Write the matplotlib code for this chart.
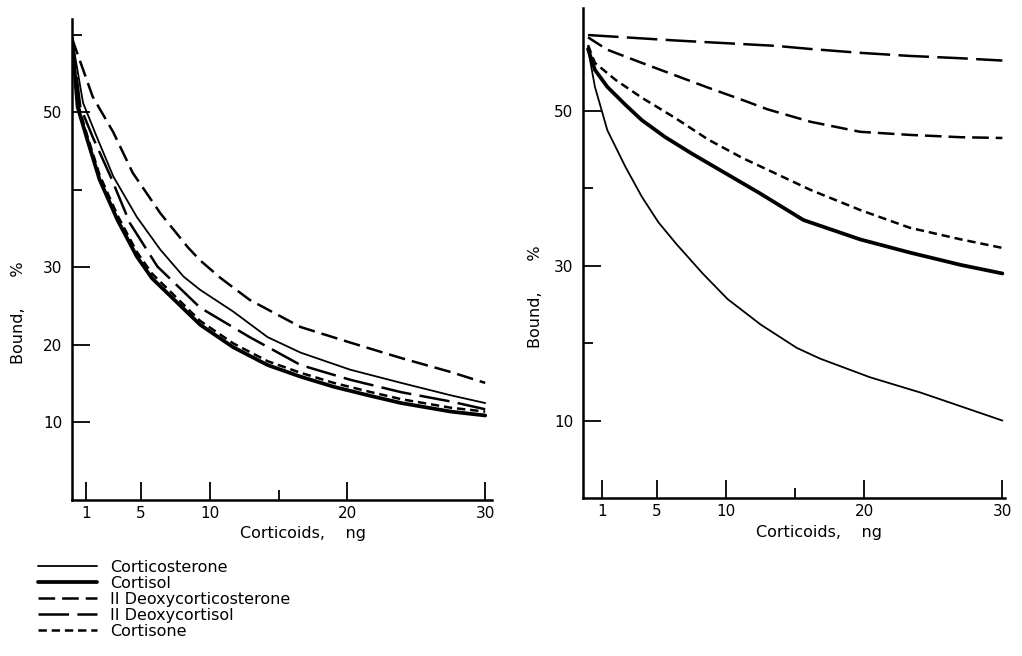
import matplotlib

matplotlib.use("Agg")
import matplotlib.pyplot as plt
from matplotlib.ticker import FixedLocator, NullFormatter

plt.rcParams["font.family"] = ["DejaVu Sans"]
plt.rcParams["lines.scale_dashes"] = False

# left panel
left_corticosterone_x = [0, 0.8, 1.8, 3.0, 4.7, 6.4, 8.1, 9.3, 11.7, 14.2, 16.6, 20.2, 23.9, 27.5, 30]
left_corticosterone_y = [59.5, 51.2, 46.8, 41.7, 36.5, 32.3, 28.8, 27.1, 24.3, 21.0, 19.0, 16.8, 15.1, 13.5, 12.5]
left_cortisol_x = [0, 0.4, 1.1, 2.0, 3.3, 4.7, 5.8, 9.3, 11.7, 14.2, 16.6, 19.0, 21.5, 23.9, 27.5, 30]
left_cortisol_y = [59.5, 50.7, 46.5, 41.3, 36.1, 31.4, 28.6, 22.6, 19.7, 17.4, 15.9, 14.6, 13.5, 12.5, 11.4, 10.9]
left_deoxycorticosterone_x = [0, 1.5, 3.0, 4.4, 6.4, 8.4, 9.3, 10.8, 12.9, 16.6, 20.2, 23.9, 27.5, 30]
left_deoxycorticosterone_y = [59.5, 52.0, 47.4, 42.2, 37.0, 32.6, 30.9, 28.6, 25.8, 22.3, 20.3, 18.3, 16.5, 15.1]
left_deoxycortisol_x = [0, 0.6, 1.5, 2.8, 4.2, 6.2, 9.3, 12.9, 16.6, 20.2, 23.9, 27.5, 30]
left_deoxycortisol_y = [59.5, 50.7, 46.8, 41.7, 35.7, 30.1, 24.8, 21.0, 17.4, 15.5, 13.9, 12.7, 11.7]
left_cortisone_x = [0, 0.4, 1.1, 2.0, 3.3, 4.7, 5.8, 9.3, 11.7, 14.2, 16.6, 19.0, 21.5, 23.9, 27.5, 30]
left_cortisone_y = [59.5, 51.2, 47.0, 41.9, 36.7, 32.0, 29.2, 23.1, 20.2, 17.9, 16.4, 15.1, 14.0, 13.0, 11.9, 11.4]

# right panel
right_corticosterone_x = [0, 0.5, 1.4, 2.7, 3.9, 5.1, 6.4, 8.3, 10.1, 12.5, 15.1, 16.8, 20.4, 24.1, 26.4, 30]
right_corticosterone_y = [58.0, 53.1, 47.5, 42.8, 38.9, 35.6, 32.8, 29.0, 25.7, 22.4, 19.4, 18.0, 15.6, 13.6, 12.2, 10.0]
right_cortisol_x = [0, 0.5, 1.4, 2.7, 3.9, 5.6, 7.5, 9.9, 12.4, 15.6, 19.7, 23.3, 27, 30]
right_cortisol_y = [58.0, 55.3, 53.1, 50.8, 48.8, 46.6, 44.5, 42.0, 39.4, 35.9, 33.4, 31.7, 30.1, 29.0]
right_deoxycorticosterone_x = [0, 1.4, 3.9, 6.3, 8.7, 11.2, 13.0, 16.1, 19.7, 23.3, 27, 30]
right_deoxycorticosterone_y = [59.5, 57.9, 56.2, 54.6, 53.0, 51.4, 50.2, 48.6, 47.3, 46.9, 46.6, 46.5]
right_deoxycortisol_x = [0, 6.3, 13.6, 16.1, 19.7, 23.3, 27, 30]
right_deoxycortisol_y = [59.8, 59.1, 58.4, 58.0, 57.5, 57.1, 56.8, 56.5]
right_cortisone_x = [0, 0.5, 2.0, 3.9, 6.3, 8.7, 11.2, 13.0, 16.1, 19.7, 23.3, 27, 30]
right_cortisone_y = [58.5, 56.2, 54.0, 51.7, 49.1, 46.3, 43.9, 42.4, 39.8, 37.2, 34.9, 33.4, 32.3]

x_ticks = [1, 5, 10, 20, 30]
x_minor = [15]

styles = {
    "Corticosterone": dict(color="black", lw=1.3, ls="-"),
    "Cortisol": dict(color="black", lw=2.7, ls="-"),
    "II Deoxycorticosterone": dict(color="black", lw=1.8, ls=(0, (12, 5))),
    "II Deoxycortisol": dict(color="black", lw=1.8, ls=(0, (22, 6))),
    "Cortisone": dict(color="black", lw=1.8, ls=(0, (6, 3.5))),
}

fig = plt.figure(figsize=(10.22, 6.56), dpi=100)
ax_l = fig.add_axes([0.0705, 0.2378, 0.411, 0.733])
ax_r = fig.add_axes([0.5705, 0.2409, 0.413, 0.747])

left_series = [
    ("Corticosterone", left_corticosterone_x, left_corticosterone_y),
    ("Cortisol", left_cortisol_x, left_cortisol_y),
    ("II Deoxycorticosterone", left_deoxycorticosterone_x, left_deoxycorticosterone_y),
    ("II Deoxycortisol", left_deoxycortisol_x, left_deoxycortisol_y),
    ("Cortisone", left_cortisone_x, left_cortisone_y),
]
right_series = [
    ("Corticosterone", right_corticosterone_x, right_corticosterone_y),
    ("Cortisol", right_cortisol_x, right_cortisol_y),
    ("II Deoxycorticosterone", right_deoxycorticosterone_x, right_deoxycorticosterone_y),
    ("II Deoxycortisol", right_deoxycortisol_x, right_deoxycortisol_y),
    ("Cortisone", right_cortisone_x, right_cortisone_y),
]

for name, xs, ys in left_series:
    ax_l.plot(xs, ys, label=name, solid_capstyle="round", **styles[name])
for name, xs, ys in right_series:
    ax_r.plot(xs, ys, label=name, solid_capstyle="round", **styles[name])


def style_axis(ax, y_major, y_minor, xlim, ylim):
    ax.set_xlim(*xlim)
    ax.set_ylim(*ylim)
    for side in ("top", "right"):
        ax.spines[side].set_visible(False)
    for side in ("left", "bottom"):
        ax.spines[side].set_linewidth(1.8)
    ax.xaxis.set_major_locator(FixedLocator(x_ticks))
    ax.xaxis.set_minor_locator(FixedLocator(x_minor))
    ax.yaxis.set_major_locator(FixedLocator(y_major))
    ax.yaxis.set_minor_locator(FixedLocator(y_minor))
    ax.xaxis.set_minor_formatter(NullFormatter())
    ax.yaxis.set_minor_formatter(NullFormatter())
    ax.tick_params(axis="both", which="major", direction="in", length=13, width=1.3,
                   labelsize=11)
    ax.tick_params(axis="both", which="minor", direction="in", length=7, width=1.3)
    ax.tick_params(axis="x", which="major", pad=4)
    ax.tick_params(axis="y", which="major", pad=7)
    ax.set_xlabel("Corticoids,    ng", fontsize=11.5, labelpad=6)
    ax.set_ylabel("Bound,      %", fontsize=11.5, labelpad=8)


style_axis(ax_l, [10, 20, 30, 50], [40, 60], (0, 30.5), (0, 62))
style_axis(ax_r, [10, 30, 50], [20, 40], (-0.36, 30.2), (0, 63.3))
ax_l.xaxis.set_label_coords(0.55, -0.055)
ax_r.xaxis.set_label_coords(0.56, -0.055)
ax_l.yaxis.set_label_coords(-0.11, 0.39)
ax_r.yaxis.set_label_coords(-0.096, 0.41)

handles, labels = ax_l.get_legend_handles_labels()
fig.legend(handles, labels, loc="upper left", bbox_to_anchor=(0.037, 0.147),
           frameon=False, fontsize=11.5, handlelength=3.7, handletextpad=0.8,
           labelspacing=0.07, borderpad=0, borderaxespad=0)

fig.savefig("out.png", dpi=100)
